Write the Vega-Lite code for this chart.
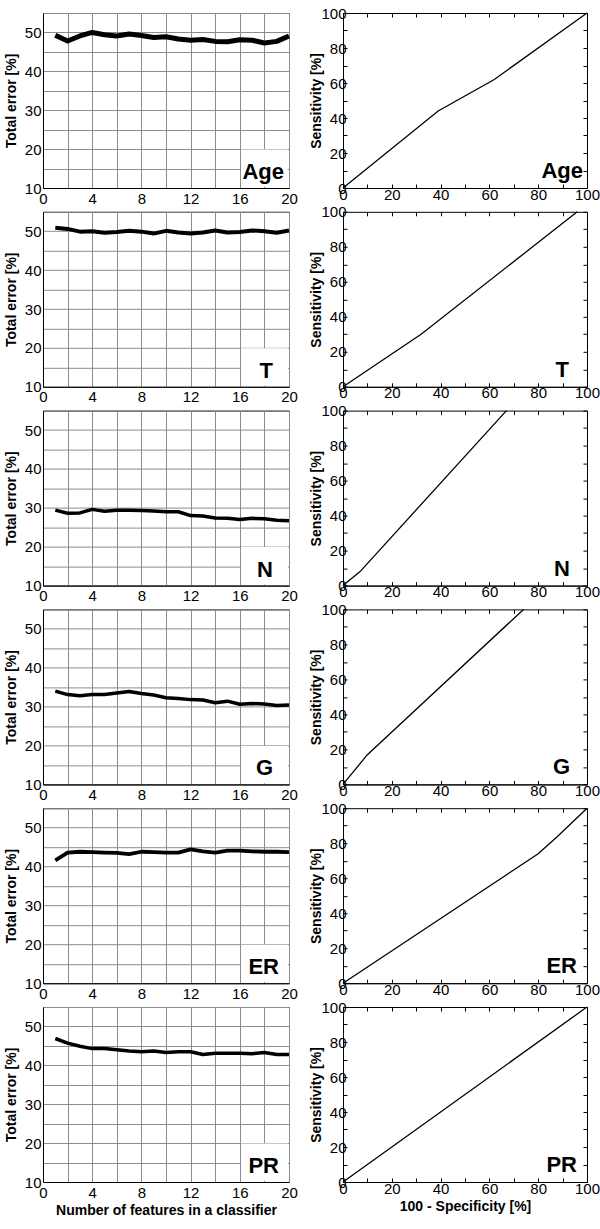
{
  "$schema": "https://vega.github.io/schema/vega-lite/v6.json",
  "padding": {"left": 3, "top": 5, "right": 0, "bottom": 5},
  "background": "white",
  "datasets": {
    "err": [
      {"m":"Age","n":1,"e":49.3},{"m":"Age","n":2,"e":47.8},{"m":"Age","n":3,"e":49.1},{"m":"Age","n":4,"e":50.0},{"m":"Age","n":5,"e":49.4},{"m":"Age","n":6,"e":49.1},{"m":"Age","n":7,"e":49.6},{"m":"Age","n":8,"e":49.2},{"m":"Age","n":9,"e":48.7},{"m":"Age","n":10,"e":48.9},{"m":"Age","n":11,"e":48.3},{"m":"Age","n":12,"e":48.0},{"m":"Age","n":13,"e":48.2},{"m":"Age","n":14,"e":47.7},{"m":"Age","n":15,"e":47.6},{"m":"Age","n":16,"e":48.1},{"m":"Age","n":17,"e":48.0},{"m":"Age","n":18,"e":47.3},{"m":"Age","n":19,"e":47.7},{"m":"Age","n":20,"e":49.1},
      {"m":"T","n":1,"e":50.9},{"m":"T","n":2,"e":50.6},{"m":"T","n":3,"e":49.9},{"m":"T","n":4,"e":50.0},{"m":"T","n":5,"e":49.6},{"m":"T","n":6,"e":49.8},{"m":"T","n":7,"e":50.1},{"m":"T","n":8,"e":49.9},{"m":"T","n":9,"e":49.4},{"m":"T","n":10,"e":50.1},{"m":"T","n":11,"e":49.7},{"m":"T","n":12,"e":49.4},{"m":"T","n":13,"e":49.7},{"m":"T","n":14,"e":50.2},{"m":"T","n":15,"e":49.7},{"m":"T","n":16,"e":49.8},{"m":"T","n":17,"e":50.2},{"m":"T","n":18,"e":50.0},{"m":"T","n":19,"e":49.6},{"m":"T","n":20,"e":50.2},
      {"m":"N","n":1,"e":29.4},{"m":"N","n":2,"e":28.6},{"m":"N","n":3,"e":28.7},{"m":"N","n":4,"e":29.6},{"m":"N","n":5,"e":29.1},{"m":"N","n":6,"e":29.4},{"m":"N","n":7,"e":29.4},{"m":"N","n":8,"e":29.3},{"m":"N","n":9,"e":29.2},{"m":"N","n":10,"e":29.0},{"m":"N","n":11,"e":29.0},{"m":"N","n":12,"e":28.0},{"m":"N","n":13,"e":27.9},{"m":"N","n":14,"e":27.4},{"m":"N","n":15,"e":27.3},{"m":"N","n":16,"e":27.0},{"m":"N","n":17,"e":27.3},{"m":"N","n":18,"e":27.2},{"m":"N","n":19,"e":26.8},{"m":"N","n":20,"e":26.7},
      {"m":"G","n":1,"e":34.0},{"m":"G","n":2,"e":33.1},{"m":"G","n":3,"e":32.8},{"m":"G","n":4,"e":33.1},{"m":"G","n":5,"e":33.1},{"m":"G","n":6,"e":33.5},{"m":"G","n":7,"e":33.9},{"m":"G","n":8,"e":33.4},{"m":"G","n":9,"e":33.0},{"m":"G","n":10,"e":32.3},{"m":"G","n":11,"e":32.1},{"m":"G","n":12,"e":31.8},{"m":"G","n":13,"e":31.7},{"m":"G","n":14,"e":31.0},{"m":"G","n":15,"e":31.4},{"m":"G","n":16,"e":30.6},{"m":"G","n":17,"e":30.8},{"m":"G","n":18,"e":30.7},{"m":"G","n":19,"e":30.3},{"m":"G","n":20,"e":30.4},
      {"m":"ER","n":1,"e":41.6},{"m":"ER","n":2,"e":43.6},{"m":"ER","n":3,"e":43.8},{"m":"ER","n":4,"e":43.7},{"m":"ER","n":5,"e":43.6},{"m":"ER","n":6,"e":43.5},{"m":"ER","n":7,"e":43.2},{"m":"ER","n":8,"e":43.8},{"m":"ER","n":9,"e":43.7},{"m":"ER","n":10,"e":43.6},{"m":"ER","n":11,"e":43.6},{"m":"ER","n":12,"e":44.4},{"m":"ER","n":13,"e":43.9},{"m":"ER","n":14,"e":43.6},{"m":"ER","n":15,"e":44.1},{"m":"ER","n":16,"e":44.1},{"m":"ER","n":17,"e":43.9},{"m":"ER","n":18,"e":43.8},{"m":"ER","n":19,"e":43.8},{"m":"ER","n":20,"e":43.7},
      {"m":"PR","n":1,"e":46.9},{"m":"PR","n":2,"e":45.7},{"m":"PR","n":3,"e":44.9},{"m":"PR","n":4,"e":44.3},{"m":"PR","n":5,"e":44.3},{"m":"PR","n":6,"e":44.0},{"m":"PR","n":7,"e":43.7},{"m":"PR","n":8,"e":43.5},{"m":"PR","n":9,"e":43.7},{"m":"PR","n":10,"e":43.3},{"m":"PR","n":11,"e":43.5},{"m":"PR","n":12,"e":43.5},{"m":"PR","n":13,"e":42.8},{"m":"PR","n":14,"e":43.1},{"m":"PR","n":15,"e":43.1},{"m":"PR","n":16,"e":43.1},{"m":"PR","n":17,"e":43.0},{"m":"PR","n":18,"e":43.3},{"m":"PR","n":19,"e":42.8},{"m":"PR","n":20,"e":42.8}
    ],
    "roc": [
      {"m":"Age","fpr":0,"sens":0},{"m":"Age","fpr":39,"sens":44},{"m":"Age","fpr":62,"sens":62},{"m":"Age","fpr":100,"sens":100},
      {"m":"T","fpr":0,"sens":0},{"m":"T","fpr":32,"sens":30},{"m":"T","fpr":96,"sens":100},
      {"m":"N","fpr":0,"sens":0},{"m":"N","fpr":7,"sens":8},{"m":"N","fpr":67,"sens":100},
      {"m":"G","fpr":0,"sens":0},{"m":"G","fpr":10,"sens":17},{"m":"G","fpr":74,"sens":100},
      {"m":"ER","fpr":0,"sens":0},{"m":"ER","fpr":80,"sens":74},{"m":"ER","fpr":88,"sens":84},{"m":"ER","fpr":100,"sens":100},
      {"m":"PR","fpr":0,"sens":0},{"m":"PR","fpr":100,"sens":100}
    ],
    "lab": [{"m":"Age"},{"m":"T"},{"m":"N"},{"m":"G"},{"m":"ER"},{"m":"PR"}]
  },
  "columns": 2,
  "spacing": {"row": 23.8, "column": 54},
  "bounds": "flush",
  "concat": [
    {"width":246,"height":175,"layer":[
      {"data":{"name":"lab"},"transform":[{"filter":"datum.m==='Age'"}],"mark":{"type":"rect","fill":"white"},
       "encoding":{"x":{"datum":16.1,"type":"quantitative","scale":{"domain":[0,20],"nice":false},"axis":{"values":[0,4,8,12,16,20],"ticks":false,"grid":false,"title":null,"labelPadding":3}},"x2":{"datum":19.9},"y":{"datum":10.3,"type":"quantitative","scale":{"domain":[10,55],"nice":false,"zero":false},"axis":{"values":[10,20,30,40,50],"ticks":false,"grid":false,"title":"Total error [%]","labelPadding":2,"titlePadding":6}},"y2":{"datum":19.9}}},
      {"data":{"name":"err"},"transform":[{"filter":"datum.m==='Age'"}],"mark":{"type":"line","color":"black","strokeWidth":5,"strokeJoin":"round"},
       "encoding":{"x":{"field":"n","type":"quantitative","axis":null},"y":{"field":"e","type":"quantitative","axis":null}}},
      {"data":{"name":"lab"},"transform":[{"filter":"datum.m==='Age'"}],"mark":{"type":"text","align":"right","baseline":"alphabetic","dx":-5,"dy":-9,"fontSize":22,"fontWeight":"bold","color":"black"},
       "encoding":{"x":{"datum":20,"type":"quantitative","axis":{"orient":"top","values":[0,2,4,6,8,10,12,14,16,18,20],"grid":true,"labels":false,"ticks":false,"domain":false,"title":null}},"y":{"datum":10,"type":"quantitative","axis":{"orient":"right","values":[10,15,20,25,30,35,40,45,50,55],"grid":true,"labels":false,"ticks":false,"domain":false,"title":null}},"text":{"field":"m"}}}
    ],"resolve":{"axis":{"x":"independent","y":"independent"}}},
    {"width":244,"height":175,"layer":[
      {"data":{"name":"roc"},"transform":[{"filter":"datum.m==='Age'"}],"mark":{"type":"line","color":"black","strokeWidth":1.3},
       "encoding":{"x":{"field":"fpr","type":"quantitative","scale":{"domain":[0,100],"nice":false},"axis":{"values":[0,10,20,30,40,50,60,70,80,90,100],"labelExpr":"datum.value % 20 === 0 ? datum.label : ''","tickSize":-4,"grid":false,"title":null,"labelPadding":3}},
                   "y":{"field":"sens","type":"quantitative","scale":{"domain":[0,100],"nice":false},"axis":{"values":[0,10,20,30,40,50,60,70,80,90,100],"labelExpr":"datum.value % 20 === 0 ? datum.label : ''","tickSize":-4,"grid":false,"title":"Sensitivity [%]","labelPadding":1,"titlePadding":-3}}}},
      {"data":{"name":"lab"},"transform":[{"filter":"datum.m==='Age'"}],"mark":{"type":"text","align":"right","baseline":"alphabetic","dx":-4,"dy":-10,"fontSize":22,"fontWeight":"bold","color":"black"},
       "encoding":{"x":{"datum":100,"type":"quantitative","axis":{"orient":"top","values":[0,10,20,30,40,50,60,70,80,90,100],"labels":false,"tickSize":-4,"grid":false,"domain":false,"title":null}},
                   "y":{"datum":0,"type":"quantitative","axis":{"orient":"right","values":[0,10,20,30,40,50,60,70,80,90,100],"labels":false,"tickSize":-4,"grid":false,"domain":false,"title":null}},"text":{"field":"m"}}}
    ],"resolve":{"axis":{"x":"independent","y":"independent"}}},

    {"width":246,"height":175,"layer":[
      {"data":{"name":"lab"},"transform":[{"filter":"datum.m==='T'"}],"mark":{"type":"rect","fill":"white"},
       "encoding":{"x":{"datum":16.1,"type":"quantitative","scale":{"domain":[0,20],"nice":false},"axis":{"values":[0,4,8,12,16,20],"ticks":false,"grid":false,"title":null,"labelPadding":3}},"x2":{"datum":19.9},"y":{"datum":10.3,"type":"quantitative","scale":{"domain":[10,55],"nice":false,"zero":false},"axis":{"values":[10,20,30,40,50],"ticks":false,"grid":false,"title":"Total error [%]","labelPadding":2,"titlePadding":6}},"y2":{"datum":19.9}}},
      {"data":{"name":"err"},"transform":[{"filter":"datum.m==='T'"}],"mark":{"type":"line","color":"black","strokeWidth":4,"strokeJoin":"round"},
       "encoding":{"x":{"field":"n","type":"quantitative","axis":null},"y":{"field":"e","type":"quantitative","axis":null}}},
      {"data":{"name":"lab"},"transform":[{"filter":"datum.m==='T'"}],"mark":{"type":"text","align":"right","baseline":"alphabetic","dx":-16,"dy":-9,"fontSize":22,"fontWeight":"bold","color":"black"},
       "encoding":{"x":{"datum":20,"type":"quantitative","axis":{"orient":"top","values":[0,2,4,6,8,10,12,14,16,18,20],"grid":true,"labels":false,"ticks":false,"domain":false,"title":null}},"y":{"datum":10,"type":"quantitative","axis":{"orient":"right","values":[10,15,20,25,30,35,40,45,50,55],"grid":true,"labels":false,"ticks":false,"domain":false,"title":null}},"text":{"field":"m"}}}
    ],"resolve":{"axis":{"x":"independent","y":"independent"}}},
    {"width":244,"height":175,"layer":[
      {"data":{"name":"roc"},"transform":[{"filter":"datum.m==='T'"}],"mark":{"type":"line","color":"black","strokeWidth":1.3},
       "encoding":{"x":{"field":"fpr","type":"quantitative","scale":{"domain":[0,100],"nice":false},"axis":{"values":[0,10,20,30,40,50,60,70,80,90,100],"labelExpr":"datum.value % 20 === 0 ? datum.label : ''","tickSize":-4,"grid":false,"title":null,"labelPadding":3}},
                   "y":{"field":"sens","type":"quantitative","scale":{"domain":[0,100],"nice":false},"axis":{"values":[0,10,20,30,40,50,60,70,80,90,100],"labelExpr":"datum.value % 20 === 0 ? datum.label : ''","tickSize":-4,"grid":false,"title":"Sensitivity [%]","labelPadding":1,"titlePadding":-3}}}},
      {"data":{"name":"lab"},"transform":[{"filter":"datum.m==='T'"}],"mark":{"type":"text","align":"right","baseline":"alphabetic","dx":-18,"dy":-10,"fontSize":22,"fontWeight":"bold","color":"black"},
       "encoding":{"x":{"datum":100,"type":"quantitative","axis":{"orient":"top","values":[0,10,20,30,40,50,60,70,80,90,100],"labels":false,"tickSize":-4,"grid":false,"domain":false,"title":null}},
                   "y":{"datum":0,"type":"quantitative","axis":{"orient":"right","values":[0,10,20,30,40,50,60,70,80,90,100],"labels":false,"tickSize":-4,"grid":false,"domain":false,"title":null}},"text":{"field":"m"}}}
    ],"resolve":{"axis":{"x":"independent","y":"independent"}}},

    {"width":246,"height":175,"layer":[
      {"data":{"name":"lab"},"transform":[{"filter":"datum.m==='N'"}],"mark":{"type":"rect","fill":"white"},
       "encoding":{"x":{"datum":16.1,"type":"quantitative","scale":{"domain":[0,20],"nice":false},"axis":{"values":[0,4,8,12,16,20],"ticks":false,"grid":false,"title":null,"labelPadding":3}},"x2":{"datum":19.9},"y":{"datum":10.3,"type":"quantitative","scale":{"domain":[10,55],"nice":false,"zero":false},"axis":{"values":[10,20,30,40,50],"ticks":false,"grid":false,"title":"Total error [%]","labelPadding":2,"titlePadding":6}},"y2":{"datum":19.9}}},
      {"data":{"name":"err"},"transform":[{"filter":"datum.m==='N'"}],"mark":{"type":"line","color":"black","strokeWidth":3.5,"strokeJoin":"round"},
       "encoding":{"x":{"field":"n","type":"quantitative","axis":null},"y":{"field":"e","type":"quantitative","axis":null}}},
      {"data":{"name":"lab"},"transform":[{"filter":"datum.m==='N'"}],"mark":{"type":"text","align":"right","baseline":"alphabetic","dx":-16,"dy":-9,"fontSize":22,"fontWeight":"bold","color":"black"},
       "encoding":{"x":{"datum":20,"type":"quantitative","axis":{"orient":"top","values":[0,2,4,6,8,10,12,14,16,18,20],"grid":true,"labels":false,"ticks":false,"domain":false,"title":null}},"y":{"datum":10,"type":"quantitative","axis":{"orient":"right","values":[10,15,20,25,30,35,40,45,50,55],"grid":true,"labels":false,"ticks":false,"domain":false,"title":null}},"text":{"field":"m"}}}
    ],"resolve":{"axis":{"x":"independent","y":"independent"}}},
    {"width":244,"height":175,"layer":[
      {"data":{"name":"roc"},"transform":[{"filter":"datum.m==='N'"}],"mark":{"type":"line","color":"black","strokeWidth":1.3},
       "encoding":{"x":{"field":"fpr","type":"quantitative","scale":{"domain":[0,100],"nice":false},"axis":{"values":[0,10,20,30,40,50,60,70,80,90,100],"labelExpr":"datum.value % 20 === 0 ? datum.label : ''","tickSize":-4,"grid":false,"title":null,"labelPadding":3}},
                   "y":{"field":"sens","type":"quantitative","scale":{"domain":[0,100],"nice":false},"axis":{"values":[0,10,20,30,40,50,60,70,80,90,100],"labelExpr":"datum.value % 20 === 0 ? datum.label : ''","tickSize":-4,"grid":false,"title":"Sensitivity [%]","labelPadding":1,"titlePadding":-3}}}},
      {"data":{"name":"lab"},"transform":[{"filter":"datum.m==='N'"}],"mark":{"type":"text","align":"right","baseline":"alphabetic","dx":-17,"dy":-10,"fontSize":22,"fontWeight":"bold","color":"black"},
       "encoding":{"x":{"datum":100,"type":"quantitative","axis":{"orient":"top","values":[0,10,20,30,40,50,60,70,80,90,100],"labels":false,"tickSize":-4,"grid":false,"domain":false,"title":null}},
                   "y":{"datum":0,"type":"quantitative","axis":{"orient":"right","values":[0,10,20,30,40,50,60,70,80,90,100],"labels":false,"tickSize":-4,"grid":false,"domain":false,"title":null}},"text":{"field":"m"}}}
    ],"resolve":{"axis":{"x":"independent","y":"independent"}}},

    {"width":246,"height":175,"layer":[
      {"data":{"name":"lab"},"transform":[{"filter":"datum.m==='G'"}],"mark":{"type":"rect","fill":"white"},
       "encoding":{"x":{"datum":16.1,"type":"quantitative","scale":{"domain":[0,20],"nice":false},"axis":{"values":[0,4,8,12,16,20],"ticks":false,"grid":false,"title":null,"labelPadding":3}},"x2":{"datum":19.9},"y":{"datum":10.3,"type":"quantitative","scale":{"domain":[10,55],"nice":false,"zero":false},"axis":{"values":[10,20,30,40,50],"ticks":false,"grid":false,"title":"Total error [%]","labelPadding":2,"titlePadding":6}},"y2":{"datum":19.9}}},
      {"data":{"name":"err"},"transform":[{"filter":"datum.m==='G'"}],"mark":{"type":"line","color":"black","strokeWidth":3.5,"strokeJoin":"round"},
       "encoding":{"x":{"field":"n","type":"quantitative","axis":null},"y":{"field":"e","type":"quantitative","axis":null}}},
      {"data":{"name":"lab"},"transform":[{"filter":"datum.m==='G'"}],"mark":{"type":"text","align":"right","baseline":"alphabetic","dx":-16,"dy":-9,"fontSize":22,"fontWeight":"bold","color":"black"},
       "encoding":{"x":{"datum":20,"type":"quantitative","axis":{"orient":"top","values":[0,2,4,6,8,10,12,14,16,18,20],"grid":true,"labels":false,"ticks":false,"domain":false,"title":null}},"y":{"datum":10,"type":"quantitative","axis":{"orient":"right","values":[10,15,20,25,30,35,40,45,50,55],"grid":true,"labels":false,"ticks":false,"domain":false,"title":null}},"text":{"field":"m"}}}
    ],"resolve":{"axis":{"x":"independent","y":"independent"}}},
    {"width":244,"height":175,"layer":[
      {"data":{"name":"roc"},"transform":[{"filter":"datum.m==='G'"}],"mark":{"type":"line","color":"black","strokeWidth":1.3},
       "encoding":{"x":{"field":"fpr","type":"quantitative","scale":{"domain":[0,100],"nice":false},"axis":{"values":[0,10,20,30,40,50,60,70,80,90,100],"labelExpr":"datum.value % 20 === 0 ? datum.label : ''","tickSize":-4,"grid":false,"title":null,"labelPadding":3}},
                   "y":{"field":"sens","type":"quantitative","scale":{"domain":[0,100],"nice":false},"axis":{"values":[0,10,20,30,40,50,60,70,80,90,100],"labelExpr":"datum.value % 20 === 0 ? datum.label : ''","tickSize":-4,"grid":false,"title":"Sensitivity [%]","labelPadding":1,"titlePadding":-3}}}},
      {"data":{"name":"lab"},"transform":[{"filter":"datum.m==='G'"}],"mark":{"type":"text","align":"right","baseline":"alphabetic","dx":-17,"dy":-10,"fontSize":22,"fontWeight":"bold","color":"black"},
       "encoding":{"x":{"datum":100,"type":"quantitative","axis":{"orient":"top","values":[0,10,20,30,40,50,60,70,80,90,100],"labels":false,"tickSize":-4,"grid":false,"domain":false,"title":null}},
                   "y":{"datum":0,"type":"quantitative","axis":{"orient":"right","values":[0,10,20,30,40,50,60,70,80,90,100],"labels":false,"tickSize":-4,"grid":false,"domain":false,"title":null}},"text":{"field":"m"}}}
    ],"resolve":{"axis":{"x":"independent","y":"independent"}}},

    {"width":246,"height":175,"layer":[
      {"data":{"name":"lab"},"transform":[{"filter":"datum.m==='ER'"}],"mark":{"type":"rect","fill":"white"},
       "encoding":{"x":{"datum":16.1,"type":"quantitative","scale":{"domain":[0,20],"nice":false},"axis":{"values":[0,4,8,12,16,20],"ticks":false,"grid":false,"title":null,"labelPadding":3}},"x2":{"datum":19.9},"y":{"datum":10.3,"type":"quantitative","scale":{"domain":[10,55],"nice":false,"zero":false},"axis":{"values":[10,20,30,40,50],"ticks":false,"grid":false,"title":"Total error [%]","labelPadding":2,"titlePadding":6}},"y2":{"datum":19.9}}},
      {"data":{"name":"err"},"transform":[{"filter":"datum.m==='ER'"}],"mark":{"type":"line","color":"black","strokeWidth":3.8,"strokeJoin":"round"},
       "encoding":{"x":{"field":"n","type":"quantitative","axis":null},"y":{"field":"e","type":"quantitative","axis":null}}},
      {"data":{"name":"lab"},"transform":[{"filter":"datum.m==='ER'"}],"mark":{"type":"text","align":"right","baseline":"alphabetic","dx":-10,"dy":-9,"fontSize":22,"fontWeight":"bold","color":"black"},
       "encoding":{"x":{"datum":20,"type":"quantitative","axis":{"orient":"top","values":[0,2,4,6,8,10,12,14,16,18,20],"grid":true,"labels":false,"ticks":false,"domain":false,"title":null}},"y":{"datum":10,"type":"quantitative","axis":{"orient":"right","values":[10,15,20,25,30,35,40,45,50,55],"grid":true,"labels":false,"ticks":false,"domain":false,"title":null}},"text":{"field":"m"}}}
    ],"resolve":{"axis":{"x":"independent","y":"independent"}}},
    {"width":244,"height":175,"layer":[
      {"data":{"name":"roc"},"transform":[{"filter":"datum.m==='ER'"}],"mark":{"type":"line","color":"black","strokeWidth":1.3},
       "encoding":{"x":{"field":"fpr","type":"quantitative","scale":{"domain":[0,100],"nice":false},"axis":{"values":[0,10,20,30,40,50,60,70,80,90,100],"labelExpr":"datum.value % 20 === 0 ? datum.label : ''","tickSize":-4,"grid":false,"title":null,"labelPadding":3}},
                   "y":{"field":"sens","type":"quantitative","scale":{"domain":[0,100],"nice":false},"axis":{"values":[0,10,20,30,40,50,60,70,80,90,100],"labelExpr":"datum.value % 20 === 0 ? datum.label : ''","tickSize":-4,"grid":false,"title":"Sensitivity [%]","labelPadding":1,"titlePadding":-3}}}},
      {"data":{"name":"lab"},"transform":[{"filter":"datum.m==='ER'"}],"mark":{"type":"text","align":"right","baseline":"alphabetic","dx":-10,"dy":-10,"fontSize":22,"fontWeight":"bold","color":"black"},
       "encoding":{"x":{"datum":100,"type":"quantitative","axis":{"orient":"top","values":[0,10,20,30,40,50,60,70,80,90,100],"labels":false,"tickSize":-4,"grid":false,"domain":false,"title":null}},
                   "y":{"datum":0,"type":"quantitative","axis":{"orient":"right","values":[0,10,20,30,40,50,60,70,80,90,100],"labels":false,"tickSize":-4,"grid":false,"domain":false,"title":null}},"text":{"field":"m"}}}
    ],"resolve":{"axis":{"x":"independent","y":"independent"}}},

    {"width":246,"height":175,"layer":[
      {"data":{"name":"lab"},"transform":[{"filter":"datum.m==='PR'"}],"mark":{"type":"rect","fill":"white"},
       "encoding":{"x":{"datum":16.1,"type":"quantitative","scale":{"domain":[0,20],"nice":false},"axis":{"values":[0,4,8,12,16,20],"ticks":false,"grid":false,"title":"Number of features in a classifier","labelPadding":3}},"x2":{"datum":19.9},"y":{"datum":10.3,"type":"quantitative","scale":{"domain":[10,55],"nice":false,"zero":false},"axis":{"values":[10,20,30,40,50],"ticks":false,"grid":false,"title":"Total error [%]","labelPadding":2,"titlePadding":6}},"y2":{"datum":19.9}}},
      {"data":{"name":"err"},"transform":[{"filter":"datum.m==='PR'"}],"mark":{"type":"line","color":"black","strokeWidth":3.5,"strokeJoin":"round"},
       "encoding":{"x":{"field":"n","type":"quantitative","axis":null},"y":{"field":"e","type":"quantitative","axis":null}}},
      {"data":{"name":"lab"},"transform":[{"filter":"datum.m==='PR'"}],"mark":{"type":"text","align":"right","baseline":"alphabetic","dx":-10,"dy":-9,"fontSize":22,"fontWeight":"bold","color":"black"},
       "encoding":{"x":{"datum":20,"type":"quantitative","axis":{"orient":"top","values":[0,2,4,6,8,10,12,14,16,18,20],"grid":true,"labels":false,"ticks":false,"domain":false,"title":null}},"y":{"datum":10,"type":"quantitative","axis":{"orient":"right","values":[10,15,20,25,30,35,40,45,50,55],"grid":true,"labels":false,"ticks":false,"domain":false,"title":null}},"text":{"field":"m"}}}
    ],"resolve":{"axis":{"x":"independent","y":"independent"}}},
    {"width":244,"height":175,"layer":[
      {"data":{"name":"roc"},"transform":[{"filter":"datum.m==='PR'"}],"mark":{"type":"line","color":"black","strokeWidth":1.3},
       "encoding":{"x":{"field":"fpr","type":"quantitative","scale":{"domain":[0,100],"nice":false},"axis":{"values":[0,10,20,30,40,50,60,70,80,90,100],"labelExpr":"datum.value % 20 === 0 ? datum.label : ''","tickSize":-4,"grid":false,"title":"100 - Specificity [%]","labelPadding":3}},
                   "y":{"field":"sens","type":"quantitative","scale":{"domain":[0,100],"nice":false},"axis":{"values":[0,10,20,30,40,50,60,70,80,90,100],"labelExpr":"datum.value % 20 === 0 ? datum.label : ''","tickSize":-4,"grid":false,"title":"Sensitivity [%]","labelPadding":1,"titlePadding":-3}}}},
      {"data":{"name":"lab"},"transform":[{"filter":"datum.m==='PR'"}],"mark":{"type":"text","align":"right","baseline":"alphabetic","dx":-10,"dy":-10,"fontSize":22,"fontWeight":"bold","color":"black"},
       "encoding":{"x":{"datum":100,"type":"quantitative","axis":{"orient":"top","values":[0,10,20,30,40,50,60,70,80,90,100],"labels":false,"tickSize":-4,"grid":false,"domain":false,"title":null}},
                   "y":{"datum":0,"type":"quantitative","axis":{"orient":"right","values":[0,10,20,30,40,50,60,70,80,90,100],"labels":false,"tickSize":-4,"grid":false,"domain":false,"title":null}},"text":{"field":"m"}}}
    ],"resolve":{"axis":{"x":"independent","y":"independent"}}}
  ],
  "config": {
    "font": "Liberation Sans",
    "view": {"stroke": "black", "strokeWidth": 1},
    "text": {"font": "Liberation Sans"},
    "axis": {
      "labelFont": "Liberation Sans", "labelFontSize": 15, "labelColor": "black",
      "titleFont": "Liberation Sans", "titleFontSize": 14, "titleFontWeight": "bold", "titleColor": "black",
      "domainColor": "black", "tickColor": "black", "gridColor": "#8c8c8c", "gridOpacity": 1,
      "labelOverlap": false, "labelFlush": false, "titlePadding": 3
    }
  }
}
